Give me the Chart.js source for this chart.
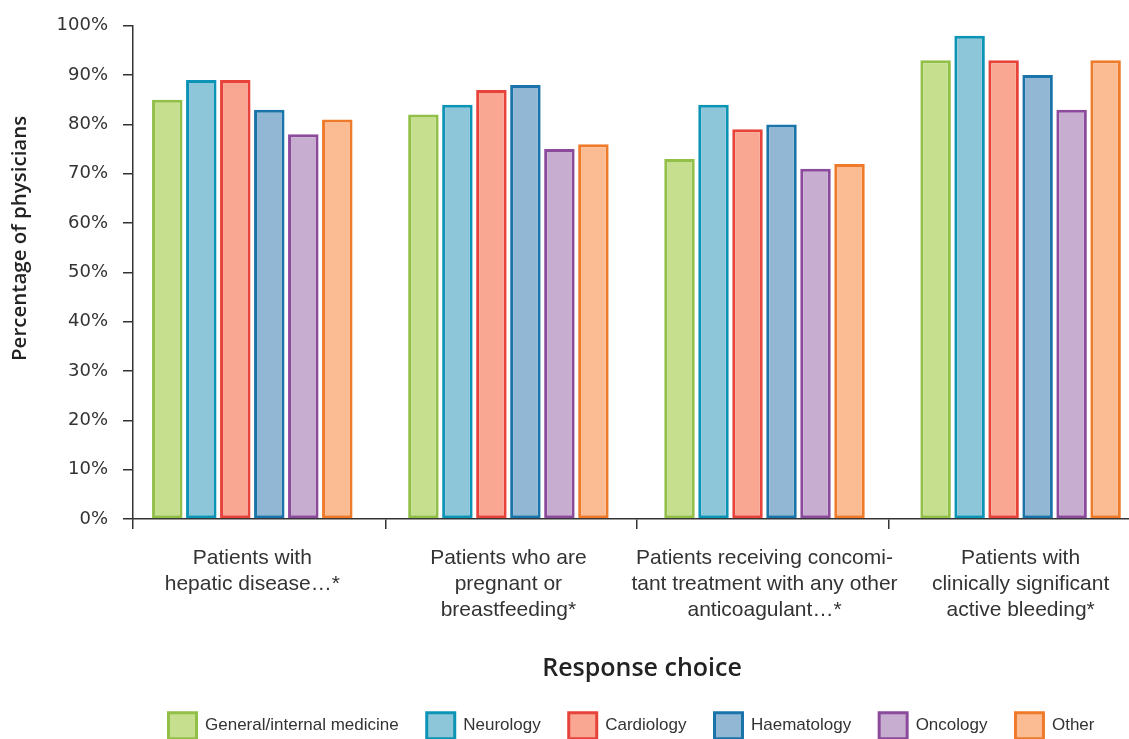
<!DOCTYPE html>
<html>
<head>
<meta charset="utf-8">
<script src="https://cdn.jsdelivr.net/npm/chart.js@4/dist/chart.umd.min.js"></script>
<style>
  html, body { margin: 0; padding: 0; background: #ffffff; overflow: hidden; }
  #wrap { width: 1150px; height: 750px; }
  canvas { display: block; }
</style>
</head>
<body>
<div id="wrap"><canvas id="chart" width="1150" height="750"></canvas></div>
<script>
// Response choices (x categories, multi-line labels)
const categories = [
  ["Patients with", "hepatic disease…*"],
  ["Patients who are", "pregnant or", "breastfeeding*"],
  ["Patients receiving concomi-", "tant treatment with any other", "anticoagulant…*"],
  ["Patients with", "clinically significant", "active bleeding*"]
];

// Percentage of physicians per specialty, one value per response choice
const generalInternal = [85, 82, 73, 93];
const neurology       = [89, 84, 84, 98];
const cardiology      = [89, 87, 79, 93];
const haematology     = [83, 88, 80, 90];
const oncology        = [78, 75, 71, 83];
const other           = [81, 76, 72, 93];

const seriesNames = ["General/internal medicine", "Neurology", "Cardiology", "Haematology", "Oncology", "Other"];
const seriesValues = [generalInternal, neurology, cardiology, haematology, oncology, other];
const fillColors   = ["#c5df8f", "#8dc6d8", "#f9a693", "#91b7d4", "#c7aed0", "#fbbb93"];
const borderColors = ["#92bf47", "#0b94b5", "#e8433a", "#1a74aa", "#8c4a9c", "#ef7b2a"];

// y-axis tick values
const yTicks = [0, 10, 20, 30, 40, 50, 60, 70, 80, 90, 100];

// category positions on the x axis, and the separator marks between groups
const categoryPositions = [0, 1, 2, 3];
const separatorPositions = [-0.4658, 0.5201, 1.5021, 2.4861, 3.4701];
const xRange = { min: -0.4658, max: 3.4701 };

const axisTitleX = 'Response choice';
const axisTitleY = 'Percentage of physicians';

const sansNormal = '"Liberation Sans", Arial, sans-serif';
const sansWide = '"DejaVu Sans", sans-serif';
const sansTitle = '"Open Sans", "Noto Sans", sans-serif';

const datasets = seriesNames.map((name, i) => ({
  label: name,
  data: seriesValues[i].map((v, j) => ({ x: categoryPositions[j], y: v })),
  xAxisID: 'xl',
  backgroundColor: fillColors[i],
  borderColor: borderColors[i],
  borderWidth: 3,
  borderSkipped: false,
  categoryPercentage: 0.7966,
  barPercentage: 0.897
}));

// Recentres the legend row under the plot area
const legendShift = {
  id: 'legendShift',
  afterLayout(chart) {
    const lg = chart.legend;
    if (!lg) return;
    const dx = 61;
    lg.left += dx;
    lg.right += dx;
  }
};

// Axis titles
const axisTitles = {
  id: 'axisTitles',
  afterDraw(chart) {
    const { ctx, chartArea: a } = chart;
    ctx.save();
    ctx.fillStyle = '#222222';
    ctx.textAlign = 'center';
    ctx.textBaseline = 'middle';
    ctx.font = '600 25px ' + sansTitle;
    ctx.fillText(axisTitleX, (a.left + a.right) / 2 + 5, a.bottom + 149.5);
    ctx.translate(20.5, a.top + (a.bottom - a.top) * 0.431);
    ctx.rotate(-Math.PI / 2);
    ctx.font = '600 20.5px ' + sansTitle;
    ctx.fillText(axisTitleY, 0, 0);
    ctx.restore();
  }
};

new Chart(document.getElementById('chart'), {
  type: 'bar',
  data: { datasets },
  plugins: [legendShift, axisTitles],
  options: {
    responsive: false,
    animation: false,
    devicePixelRatio: 1,
    layout: { padding: { top: 24, left: 0, right: 9, bottom: 1.3 } },
    plugins: {
      tooltip: { enabled: false },
      legend: {
        position: 'bottom',
        labels: {
          boxWidth: 28,
          boxHeight: 26,
          padding: 28,
          color: '#333333',
          font: { family: sansNormal, size: 17 }
        }
      }
    },
    scales: {
      // separator marks between response groups, and the baseline
      x: {
        type: 'linear',
        position: 'bottom',
        weight: 0,
        min: xRange.min,
        max: xRange.max,
        offset: false,
        afterBuildTicks(s) { s.ticks = separatorPositions.map(v => ({ value: v })); },
        afterFit(s) { s.height = 10; },
        grid: {
          offset: false,
          drawOnChartArea: false,
          drawTicks: true,
          tickLength: 10,
          color: '#333333',
          lineWidth: 1.5
        },
        border: { display: true, color: '#333333', width: 1.5 },
        ticks: { display: false }
      },
      // response choice labels
      xl: {
        type: 'linear',
        position: 'bottom',
        weight: 1,
        min: xRange.min,
        max: xRange.max,
        offset: false,
        afterBuildTicks(s) { s.ticks = categoryPositions.map(v => ({ value: v })); },
        afterFit(s) { s.height = 155.7; },
        grid: { display: false, drawTicks: false, offset: false },
        border: { display: false },
        ticks: {
          color: '#333333',
          padding: 16,
          maxRotation: 0,
          autoSkip: false,
          font: { family: sansNormal, size: 21, lineHeight: 1.24 },
          callback: v => categories[v]
        }
      },
      y: {
        min: 0,
        max: 100,
        afterFit(s) { s.width = 133; },
        afterBuildTicks(s) { s.ticks = yTicks.map(v => ({ value: v })); },
        grid: {
          drawOnChartArea: false,
          drawTicks: true,
          tickLength: 10,
          color: '#333333',
          lineWidth: 1.5
        },
        border: { display: true, color: '#333333', width: 1.5 },
        ticks: {
          color: '#333333',
          padding: 15,
          font: { family: sansWide, size: 18 },
          callback: v => v + '%'
        }
      }
    }
  }
});
</script>
</body>
</html>
